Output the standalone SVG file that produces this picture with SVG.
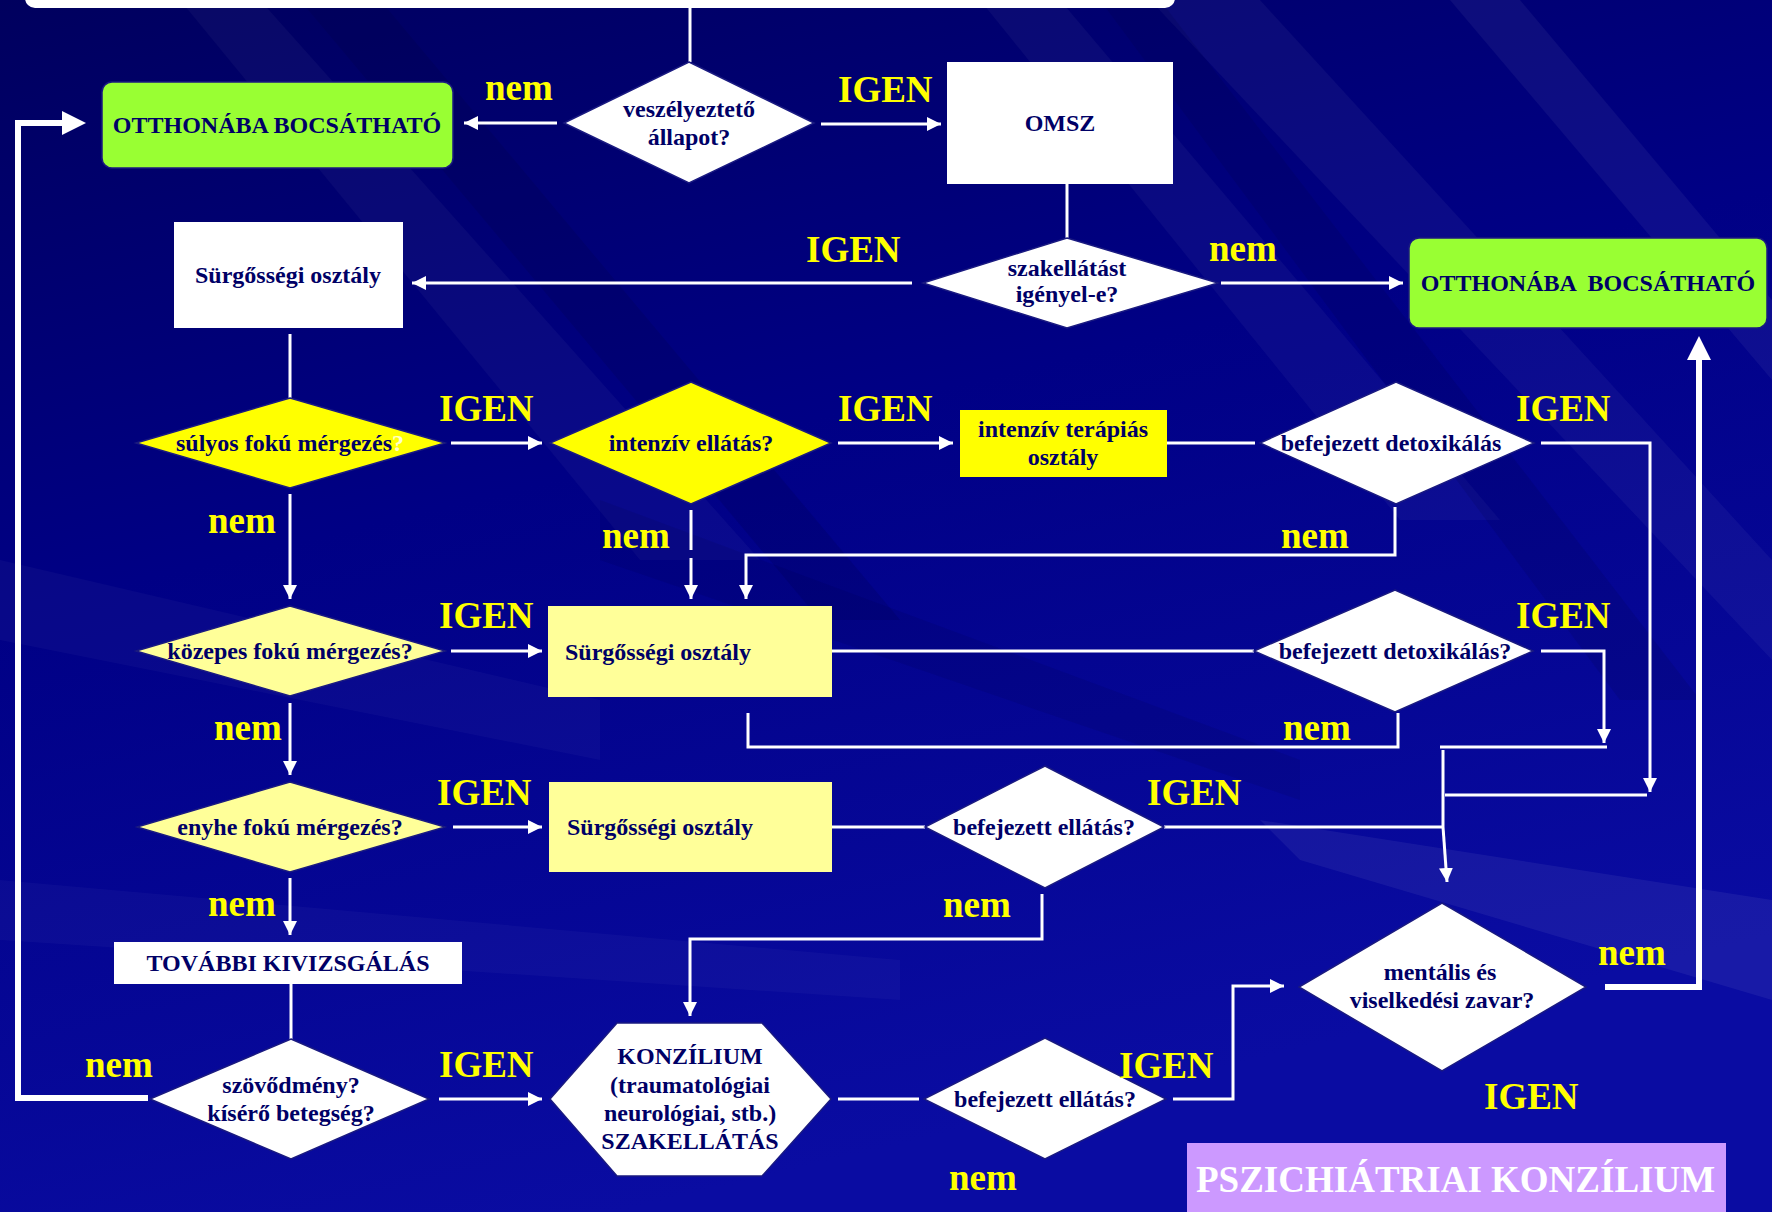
<svg xmlns="http://www.w3.org/2000/svg" width="1772" height="1212" viewBox="0 0 1772 1212">
<defs>
<linearGradient id="bg" x1="0" y1="0" x2="0.35" y2="1">
<stop offset="0" stop-color="#00005e"/>
<stop offset="0.45" stop-color="#000085"/>
<stop offset="1" stop-color="#0a0ca2"/>
</linearGradient>
<marker id="ah" markerUnits="userSpaceOnUse" markerWidth="14" markerHeight="14" viewBox="0 0 14 14" refX="14" refY="7" orient="auto">
<path d="M0,0 L14,7 L0,14 z" fill="#ffffff"/>
</marker>
<marker id="ahb" markerUnits="userSpaceOnUse" markerWidth="24" markerHeight="24" viewBox="0 0 24 24" refX="12" refY="12" orient="auto">
<path d="M0,0 L24,12 L0,24 z" fill="#ffffff"/>
</marker>
<style>
.t{font-family:'Liberation Serif','Times New Roman',serif;font-weight:bold;font-size:24px;fill:#000066;text-anchor:middle}
.l{font-family:'Liberation Serif','Times New Roman',serif;font-weight:bold;font-size:37px;fill:#ffff00}
.c{fill:none;stroke:#ffffff;stroke-width:3}
.a{fill:none;stroke:#ffffff;stroke-width:3;marker-end:url(#ah)}
.k{fill:none;stroke:#ffffff;stroke-width:6;marker-end:url(#ahb)}
.d{stroke:#1a1a80;stroke-width:1.5}
.w{fill:#ffffff}
.g{fill:#99ff33;stroke:#1a1a80;stroke-width:1.5}
.y{fill:#ffff00}
.ly{fill:#ffff99}
</style>
</defs>
<rect x="0" y="0" width="1772" height="1212" fill="url(#bg)"/>
<g id="streaks" fill="#ffffff">
<polygon points="180,0 260,0 760,560 640,560" opacity="0.035"/>
<polygon points="980,0 1060,0 1500,520 1400,520" opacity="0.04"/>
<polygon points="1150,0 1260,0 1772,560 1772,660" opacity="0.045"/>
<polygon points="1450,0 1520,0 1772,300 1772,380" opacity="0.05"/>
<polygon points="1260,820 1772,900 1772,1000 1300,860" opacity="0.06"/>
<polygon points="0,560 600,700 600,760 0,640" opacity="0.03"/>
<polygon points="0,880 900,960 900,1000 0,940" opacity="0.03"/>
</g>
<g id="streaks-dark" fill="#000033">
<polygon points="300,0 380,0 900,620 820,620" opacity="0.15"/>
<polygon points="1100,0 1160,0 1700,700 1620,700" opacity="0.12"/>
<polygon points="600,500 1300,760 1300,800 600,560" opacity="0.1"/>
</g>

<g id="connectors">
<path class="c" d="M690,8 V62"/>
<path class="a" d="M557,123 H464"/>
<path class="a" d="M821,124 H941"/>
<path class="c" d="M1067,184 V238"/>
<path class="a" d="M912,283 H412"/>
<path class="a" d="M1221,283 H1403"/>
<path class="c" d="M290,334 V398"/>
<path class="a" d="M451,443 H542"/>
<path class="a" d="M838,443 H953"/>
<path class="c" d="M1167,443 H1255"/>
<path class="a" d="M1541,443 H1650 V792"/>
<path class="a" d="M1395,507 V555 H746 V599"/>
<path class="a" d="M290,494 V599"/>
<path class="c" d="M691,510 V550"/>
<path class="a" d="M691,558 V599"/>
<path class="a" d="M451,651 H542"/>
<path class="c" d="M832,651 H1254"/>
<path class="a" d="M1541,651 H1604 V743"/>
<path class="c" d="M748,713 V747 H1398 V713"/>
<path class="c" d="M1607,747 H1440"/>
<path class="c" d="M1443,750 V827"/>
<path class="c" d="M1445,795 H1647"/>
<path class="a" d="M290,703 V775"/>
<path class="a" d="M453,827 H542"/>
<path class="c" d="M832,827 H925"/>
<path class="c" d="M1164,827 H1443"/>
<path class="a" d="M1443,827 L1447,882"/>
<path class="a" d="M1042,894 V939 H690 V1016"/>
<path class="a" d="M290,878 V935"/>
<path class="c" d="M291,984 V1039"/>
<path class="a" d="M439,1099 H542"/>
<path class="c" d="M838,1099 H919"/>
<path class="a" d="M1173,1099 H1233 V986 H1284"/>
<path class="k" d="M1605,987 H1699 V348"/>
<path class="k" d="M148,1098 H18 V123 H74"/>
</g>

<g id="top-box">
<rect x="25" y="-20" width="1150" height="28" rx="10" class="w"/>
</g>

<g id="otthon1">
<rect x="102" y="82" width="351" height="86" rx="10" class="g"/>
<text class="t" x="277" y="133">OTTHONÁBA BOCSÁTHATÓ</text>
</g>

<g id="veszely">
<polygon points="689,62 814,123 689,183 564,123" class="w d"/>
<text class="t" x="689" y="117">veszélyeztető</text>
<text class="t" x="689" y="145">állapot?</text>
</g>

<g id="omsz">
<rect x="947" y="62" width="226" height="122" class="w"/>
<text class="t" x="1060" y="131">OMSZ</text>
</g>

<g id="szakellatas">
<polygon points="1067,238 1218,283 1067,328 923,283" class="w d"/>
<text class="t" x="1067" y="276">szakellátást</text>
<text class="t" x="1067" y="302">igényel-e?</text>
</g>

<g id="otthon2">
<rect x="1409" y="238" width="358" height="90" rx="10" class="g"/>
<text class="t" x="1588" y="291" xml:space="preserve">OTTHONÁBA  BOCSÁTHATÓ</text>
</g>

<g id="surgos1">
<rect x="174" y="222" width="229" height="106" class="w"/>
<text class="t" x="288" y="283">Sürgősségi osztály</text>
</g>

<g id="sulyos">
<polygon points="290,398 445,443 290,488 136,443" class="y d"/>
<text class="t" x="290" y="451">súlyos fokú mérgezés<tspan fill="#ffffcc">?</tspan></text>
</g>

<g id="intenziv">
<polygon points="691,382 831,443 691,504 550,443" class="y d"/>
<text class="t" x="691" y="451">intenzív ellátás?</text>
</g>

<g id="ito">
<rect x="960" y="410" width="207" height="67" class="y"/>
<text class="t" x="1063" y="437">intenzív terápiás</text>
<text class="t" x="1063" y="465">osztály</text>
</g>

<g id="detox1">
<polygon points="1396,382 1534,443 1396,504 1260,443" class="w d"/>
<text class="t" x="1391" y="451">befejezett detoxikálás</text>
</g>

<g id="kozepes">
<polygon points="290,606 445,651 290,696 136,651" class="ly d"/>
<text class="t" x="290" y="659">közepes fokú mérgezés?</text>
</g>

<g id="surgos2">
<rect x="548" y="606" width="284" height="91" class="ly"/>
<text class="t" x="565" y="660" style="text-anchor:start">Sürgősségi osztály</text>
</g>

<g id="detox2">
<polygon points="1395,590 1533,651 1395,712 1254,651" class="w d"/>
<text class="t" x="1395" y="659">befejezett detoxikálás?</text>
</g>

<g id="enyhe">
<polygon points="290,782 445,827 290,872 137,827" class="ly d"/>
<text class="t" x="290" y="835">enyhe fokú mérgezés?</text>
</g>

<g id="surgos3">
<rect x="549" y="782" width="283" height="90" class="ly"/>
<text class="t" x="567" y="835" style="text-anchor:start">Sürgősségi osztály</text>
</g>

<g id="befejezett1">
<polygon points="1045,766 1164,827 1045,888 925,827" class="w d"/>
<text class="t" x="1044" y="835">befejezett ellátás?</text>
</g>

<g id="tovabbi">
<rect x="114" y="942" width="348" height="42" class="w"/>
<text class="t" x="288" y="971">TOVÁBBI KIVIZSGÁLÁS</text>
</g>

<g id="szovodmeny">
<polygon points="291,1039 429,1099 291,1159 150,1099" class="w d"/>
<text class="t" x="291" y="1093">szövődmény?</text>
<text class="t" x="291" y="1121">kísérő betegség?</text>
</g>

<g id="konzilium">
<polygon points="617,1023 762,1023 831,1099 762,1176 617,1176 550,1099" class="w d"/>
<text class="t" x="690" y="1064">KONZÍLIUM</text>
<text class="t" x="690" y="1093">(traumatológiai</text>
<text class="t" x="690" y="1121">neurológiai, stb.)</text>
<text class="t" x="690" y="1149">SZAKELLÁTÁS</text>
</g>

<g id="befejezett2">
<polygon points="1045,1038 1166,1099 1045,1159 924,1099" class="w d"/>
<text class="t" x="1045" y="1107">befejezett ellátás?</text>
</g>

<g id="mentalis">
<polygon points="1442,903 1586,987 1442,1071 1299,987" class="w d"/>
<text class="t" x="1440" y="980">mentális és</text>
<text class="t" x="1442" y="1008">viselkedési zavar?</text>
</g>

<g id="pszichiatriai">
<rect x="1187" y="1143" width="539" height="80" fill="#cc99ff"/>
<text x="1196" y="1192" style="font-family:'Liberation Serif','Times New Roman',serif;font-weight:bold;font-size:37px;fill:#ffffff">PSZICHIÁTRIAI KONZÍLIUM</text>
</g>

<g id="labels">
<text class="l" x="485" y="100">nem</text>
<text class="l" x="838" y="102">IGEN</text>
<text class="l" x="806" y="262">IGEN</text>
<text class="l" x="1209" y="261">nem</text>
<text class="l" x="439" y="421">IGEN</text>
<text class="l" x="838" y="421">IGEN</text>
<text class="l" x="1516" y="421">IGEN</text>
<text class="l" x="208" y="533">nem</text>
<text class="l" x="602" y="548">nem</text>
<text class="l" x="1281" y="548">nem</text>
<text class="l" x="439" y="628">IGEN</text>
<text class="l" x="1516" y="628">IGEN</text>
<text class="l" x="214" y="740">nem</text>
<text class="l" x="1283" y="740">nem</text>
<text class="l" x="437" y="805">IGEN</text>
<text class="l" x="1147" y="805">IGEN</text>
<text class="l" x="208" y="916">nem</text>
<text class="l" x="943" y="917">nem</text>
<text class="l" x="1598" y="965">nem</text>
<text class="l" x="85" y="1077">nem</text>
<text class="l" x="439" y="1077">IGEN</text>
<text class="l" x="1119" y="1078">IGEN</text>
<text class="l" x="1484" y="1109">IGEN</text>
<text class="l" x="949" y="1190">nem</text>
</g>
</svg>
